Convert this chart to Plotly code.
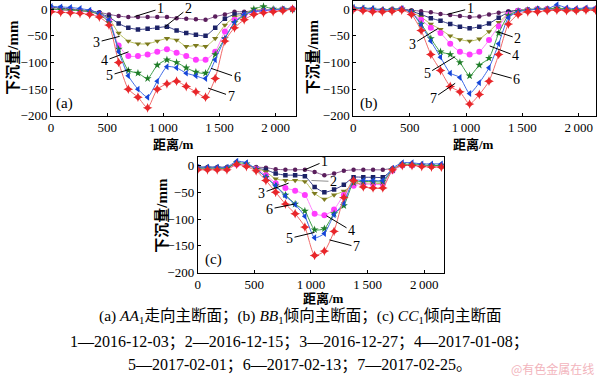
import plotly.graph_objects as go

# ---------------- data ----------------
distance = [0, 86, 172, 258, 344, 430, 516, 602, 688, 774, 860, 946, 1032,
            1118, 1204, 1290, 1376, 1462, 1548, 1634, 1720, 1806, 1892, 1978, 2064, 2150]

series_names = ["1", "2", "3", "4", "5", "6", "7"]

# panel (a) AA1
a1 = [0, -1, -2, -3, -4, -6, -10, -13, -15, -15, -15, -15, -15, -17, -18, -19, -20, -14, -10, -5, -5, -3, -2, -1, 0, 0]
a2 = [3, 2, 0, -2, -4, -8, -15, -27, -35, -38, -37, -35, -33, -40, -45, -48, -50, -35, -18, -10, -8, -5, -3, -2, 0, 0]
a3 = [0, -1, -2, -3, -5, -8, -18, -45, -60, -65, -65, -60, -55, -58, -70, -68, -70, -55, -30, -15, -10, 0, -2, -3, -1, 0]
a4 = [0, -1, -2, -3, -5, -10, -22, -68, -88, -88, -85, -80, -75, -82, -88, -95, -95, -80, -42, -20, -12, -5, -3, -2, -1, 0]
a5 = [0, -1, -2, -3, -5, -10, -25, -75, -115, -120, -130, -105, -95, -100, -110, -118, -120, -85, -55, -25, -12, 0, 5, 0, 0, 0]
a6 = [5, 4, 3, 1, -2, -8, -20, -80, -125, -150, -165, -135, -108, -110, -120, -125, -130, -95, -55, -25, -10, -5, -3, -1, 0, 0]
a7 = [-5, -6, -7, -8, -10, -15, -30, -100, -150, -165, -185, -150, -140, -135, -145, -155, -165, -130, -60, -35, -20, -10, -7, -5, -3, 0]

# panel (b) BB1
b1 = [0, 0, -1, -1, -1, 0, -2, -4, -6, -9, -11, -13, -15, -14, -10, -7, -4, -2, -1, 0, 0, 0, -1, -1, 0, 0]
b2 = [0, -1, -2, -2, -1, 0, -4, -10, -17, -22, -28, -33, -36, -33, -27, -16, -6, -2, -1, 0, 0, 0, -1, -1, 0, 0]
b3 = [0, -1, -2, -2, -1, 0, -6, -15, -28, -38, -50, -57, -60, -56, -42, -25, -9, -3, -1, 0, 0, 2, 0, -1, 0, 0]
b4 = [0, -1, -2, -3, -2, 0, -8, -20, -35, -45, -65, -80, -85, -80, -58, -32, -10, -3, -2, 0, 0, 1, 0, -1, 0, 0]
b5 = [2, 1, 0, -2, -1, 0, -6, -28, -55, -80, -85, -100, -125, -105, -92, -45, -12, -4, -2, 0, 0, 2, 0, -1, 0, 0]
b6 = [3, 2, 1, -1, -1, 1, -6, -30, -60, -90, -120, -128, -158, -138, -110, -65, -16, -5, -2, 0, 0, 8, 2, 1, 2, 2]
b7 = [-1, -3, -5, -5, -4, -2, -10, -40, -85, -115, -145, -155, -178, -160, -135, -85, -28, -10, -5, -5, -3, -2, -3, -3, -2, -2]

# panel (c) CC1
c1 = [-3, -3, -3, -3, 3, 0, -3, -4, -7, -8, -8, -8, -12, -18, -15, -10, -8, -8, -8, -8, -5, 0, 0, 0, 0, 0]
c2 = [-5, -5, -5, -5, 3, 0, -5, -8, -15, -18, -18, -20, -40, -50, -45, -36, -22, -22, -22, -22, -8, 0, 0, 0, 0, 0]
c3 = [-5, -5, -5, -5, 2, 0, -5, -12, -25, -28, -28, -30, -52, -63, -55, -48, -35, -33, -33, -33, -8, 0, 0, 0, -1, -1]
c4 = [-6, -6, -6, -6, 2, 0, -6, -18, -33, -42, -47, -55, -90, -93, -82, -55, -38, -35, -35, -35, -10, 0, 0, 0, -1, -1]
c5 = [-5, -5, -5, -5, 5, 3, -7, -22, -38, -55, -72, -85, -120, -118, -90, -75, -32, -30, -30, -30, -8, 2, 2, 1, 0, 0]
c6 = [-3, -3, -3, -3, 8, 5, -7, -22, -38, -57, -73, -95, -135, -127, -92, -70, -28, -28, -28, -28, -5, 5, 5, 3, 3, 3]
c7 = [-8, -8, -8, -8, 2, -2, -10, -28, -50, -72, -90, -115, -168, -160, -123, -60, -28, -40, -42, -42, -8, 0, 0, -2, -3, -3]

y_ticks = [0, -50, -100, -150, -200]
y_tick_text = ["0", "\u221250", "\u2212100", "\u2212150", "\u2212200"]
x_ticks = [0, 500, 1000, 1500, 2000]
x_tick_text = ["0", "500", "1\u2009000", "1\u2009500", "2\u2009000"]

# ---------------- styles ----------------
marker_colors = ["#5a1e5c", "#1c2266", "#7c7a1e", "#ff3cff", "#1f7d28", "#1646d8", "#e8262a"]
line_colors = ["#8a5a90", "#3a4088", "#b9c060", "#ff84ff", "#3e9e48", "#3f6ae6", "#f06a6a"]
symbols = ["circle", "square", "triangle-down", "circle", "star", "triangle-left", "star-diamond"]
sizes = [4.5, 4.5, 5.5, 6, 6, 6, 7]

SERIF = "Liberation Serif, Times New Roman, Noto Sans CJK SC, serif"
CJK = "Liberation Serif, Noto Sans CJK SC, serif"

fig = go.Figure()

panels = [
    ([a1, a2, a3, a4, a5, a6, a7], "x", "y"),
    ([b1, b2, b3, b4, b5, b6, b7], "x2", "y2"),
    ([c1, c2, c3, c4, c5, c6, c7], "x3", "y3"),
]
for data, xa, ya in panels:
    for i, vals in enumerate(data):
        fig.add_trace(go.Scatter(
            x=distance, y=vals, xaxis=xa, yaxis=ya, mode="lines+markers",
            name=series_names[i], showlegend=False,
            line=dict(color=line_colors[i], width=1, shape="spline", smoothing=0.6),
            marker=dict(symbol=symbols[i], size=sizes[i], color=marker_colors[i],
                        line=dict(width=0)),
        ))

axis_common = dict(showline=True, linecolor="black", linewidth=1, mirror=True,
                   ticks="inside", ticklen=3, tickcolor="black", showgrid=False,
                   zeroline=False, tickfont=dict(family=SERIF, size=13, color="black"))

layout = dict(
    width=600, height=385, margin=dict(l=0, r=0, t=0, b=0),
    paper_bgcolor="white", plot_bgcolor="white",
    xaxis=dict(domain=[0.0805, 0.4905], range=[0, 2180], tickvals=x_ticks, ticktext=x_tick_text, anchor="y", **axis_common),
    yaxis=dict(domain=[0.6927, 0.9971], range=[-200, 15], tickvals=y_ticks, ticktext=y_tick_text, anchor="x", **axis_common),
    xaxis2=dict(domain=[0.5867, 0.9933], range=[0, 2153], tickvals=x_ticks, ticktext=x_tick_text, anchor="y2", **axis_common),
    yaxis2=dict(domain=[0.6927, 0.9971], range=[-200, 15], tickvals=y_ticks, ticktext=y_tick_text, anchor="x2", **axis_common),
    xaxis3=dict(domain=[0.3262, 0.7388], range=[0, 2175], tickvals=x_ticks, ticktext=x_tick_text, anchor="y3", **axis_common),
    yaxis3=dict(domain=[0.2771, 0.5823], range=[-200, 15], tickvals=y_ticks, ticktext=y_tick_text, anchor="x3", **axis_common),
)
fig.update_layout(**layout)

# ---------------- series labels with leader lines ----------------
labels = {
    ("x", "y"): [("1", 743, -14, 26, -8), ("2", 1009, -34, 24, -19), ("3", 611, -51, -23, 6),
                 ("4", 690, -80, -24, 9), ("5", 699, -113, -20, 6), ("6", 1425, -111, 26, 9),
                 ("7", 1398, -148, 23, 8)],
    ("x2", "y2"): [("1", 833, -10, 23, -6), ("2", 1272, -42, 21, 7), ("3", 754, -36, -26, 16),
                   ("4", 1210, -69, 26, 10), ("5", 904, -89, -28, 17), ("6", 1228, -119, 25, 7),
                   ("7", 904, -139, -22, 15)],
    ("x3", "y3"): [("1", 934, -9, 21, -9), ("2", 1004, -28, 22, 1), ("3", 802, -33, -27, 10),
                   ("4", 1137, -94, 25, 15), ("5", 1031, -125, -25, 6), ("6", 855, -72, -25, 5),
                   ("7", 1163, -139, 27, 7)],
}
for (xa, ya), items in labels.items():
    for txt, x, y, ax, ay in items:
        col = "#909090" if (xa == "x3" and txt == "2") else "black"
        fig.add_annotation(x=x, y=y, xref=xa, yref=ya, text=txt, showarrow=True,
                           arrowhead=0, arrowwidth=1, arrowcolor=col, ax=ax, ay=ay,
                           font=dict(family=SERIF, size=14, color="black"))


def paper_x(px):
    return px / 600


def paper_y(py):
    return 1 - py / 385


def add_text(txt, cx, cy, size, family=CJK, color="black", angle=0):
    fig.add_annotation(x=paper_x(cx), y=paper_y(cy), xref="paper", yref="paper",
                       xanchor="center", yanchor="middle", text=txt, showarrow=False,
                       textangle=angle, font=dict(family=family, size=size, color=color))


# panel tags
for tag, cx, cy in [("(a)", 62, 106), ("(b)", 368, 106), ("(c)", 212, 265)]:
    add_text(tag, cx, cy, 15, family=SERIF)

# axis titles
for cx, cy in [(171, 148), (473, 148), (322, 305)]:
    add_text("<b>距离/m</b>", cx, cy, 13)
for cx, cy in [(10, 58), (311, 58), (160, 220)]:
    add_text("<b>下沉量/mm</b>", cx, cy, 15, angle=-90)

# captions
captions = [
    ("(a) <i>AA</i><sub>1</sub>走向主断面；(b) <i>BB</i><sub>1</sub>倾向主断面；(c) <i>CC</i><sub>1</sub>倾向主断面", 323, 15.5),
    ("1—2016-12-03；2—2016-12-15；3—2016-12-27；4—2017-01-08；", 349, 16),
    ("5—2017-02-01；6—2017-02-13；7—2017-02-25。", 373, 16),
]
for txt, cy, fs in captions:
    add_text(txt, 298, cy, fs)

add_text("@有色金属在线", 552, 376, 12, family="Noto Sans CJK SC", color="#f2b4bc")

fig.write_html("out.html", config={"displayModeBar": False},
               post_script="document.body.style.margin='0';document.body.style.overflow='hidden';")
